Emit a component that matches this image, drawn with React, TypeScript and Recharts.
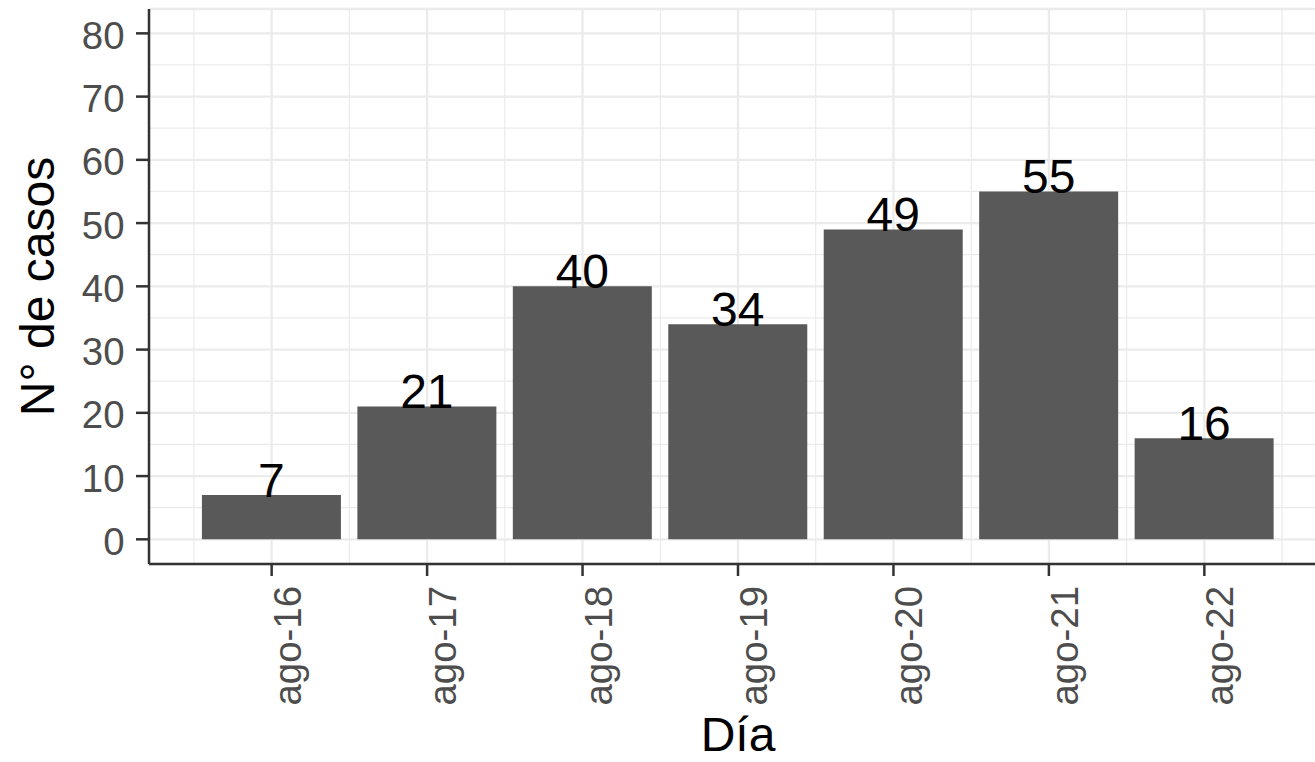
import React from "react";
import {
  BarChart, Bar, XAxis, YAxis, CartesianGrid, LabelList, Label
} from "recharts";

const days = ["ago-16", "ago-17", "ago-18", "ago-19", "ago-20", "ago-21", "ago-22"];
const dayIndex = [1, 2, 3, 4, 5, 6, 7];
const casos = [7, 21, 40, 34, 49, 55, 16];

const yTicks = [0, 10, 20, 30, 40, 50, 60, 70, 80];
const yMinor = [5, 15, 25, 35, 45, 55, 65, 75];
const xMinor = [0.5, 1.5, 2.5, 3.5, 4.5, 5.5, 6.5, 7.5];

const data = dayIndex.map((d, i) => ({ dia: d, casos: casos[i] }));

const FONT = "'Liberation Sans', Arial, sans-serif";
const GRID = "#EBEBEB";
const INK = "#333333";
const X_DOMAIN = [0.211, 7.789];
const Y_DOMAIN = [-3.9, 83.85];

function XTick({ x, y, payload }: any) {
  const label = days[payload.value - 1];
  return (
    <text
      transform={`translate(${x + 29},${y}) rotate(-90)`}
      textAnchor="end"
      fontSize={38.4}
      fontFamily={FONT}
      fill="#4D4D4D"
    >
      {label}
    </text>
  );
}

function YTitle({ viewBox }: any) {
  const cx = viewBox.x + 54;
  const cy = viewBox.y + viewBox.height / 2;
  return (
    <text
      transform={`translate(${cx},${cy}) rotate(-90)`}
      textAnchor="middle"
      fontSize={48}
      fontFamily={FONT}
      fill="#000"
    >
      N° de casos
    </text>
  );
}

export default function App() {
  return (
    <div style={{ position: "absolute", left: 0, top: 0, width: 1315, height: 762, overflow: "hidden", background: "#fff" }}>
      <BarChart
        width={1327}
        height={762}
        data={data}
        margin={{ top: 9, right: 0, bottom: 0, left: 0 }}
      >
        {/* minor grid, drawn from hidden axes */}
        <CartesianGrid xAxisId="minor" yAxisId="minor" stroke={GRID} strokeWidth={1.2} />
        <CartesianGrid stroke={GRID} strokeWidth={2.3} />
        <XAxis
          xAxisId="minor"
          dataKey="dia"
          type="number"
          domain={X_DOMAIN}
          allowDataOverflow
          ticks={xMinor}
          interval={0}
          hide
        />
        <YAxis
          yAxisId="minor"
          type="number"
          domain={Y_DOMAIN}
          allowDataOverflow
          ticks={yMinor}
          interval={0}
          hide
        />
        <XAxis
          dataKey="dia"
          type="number"
          domain={X_DOMAIN}
          allowDataOverflow
          ticks={dayIndex}
          interval={0}
          height={198}
          tickSize={12}
          tickMargin={10}
          tick={<XTick />}
          axisLine={{ stroke: INK, strokeWidth: 2.5 }}
          tickLine={{ stroke: INK, strokeWidth: 2.5 }}
        >
          <Label
            value="Día"
            position="insideBottom"
            offset={11}
            fontSize={48}
            fontFamily={FONT}
            fill="#000"
          />
        </XAxis>
        <XAxis
          xAxisId="top"
          orientation="top"
          dataKey="dia"
          type="number"
          domain={X_DOMAIN}
          allowDataOverflow
          height={0}
          tick={false}
          tickLine={false}
          axisLine={{ stroke: INK, strokeWidth: 2.5 }}
        />
        <YAxis
          type="number"
          domain={Y_DOMAIN}
          allowDataOverflow
          ticks={yTicks}
          interval={0}
          width={149}
          tickSize={13}
          tickMargin={11.5}
          tick={{ fontSize: 38.4, fontFamily: FONT, fill: "#4D4D4D", dy: 2 }}
          axisLine={{ stroke: INK, strokeWidth: 2.5 }}
          tickLine={{ stroke: INK, strokeWidth: 2.5 }}
        >
          <Label content={<YTitle />} />
        </YAxis>
        <Bar dataKey="casos" fill="#595959" barSize={139} isAnimationActive={false}>
          <LabelList
            dataKey="casos"
            position="top"
            offset={-1.5}
            fontSize={48}
            fontFamily={FONT}
            fill="#000"
          />
        </Bar>
      </BarChart>
    </div>
  );
}
